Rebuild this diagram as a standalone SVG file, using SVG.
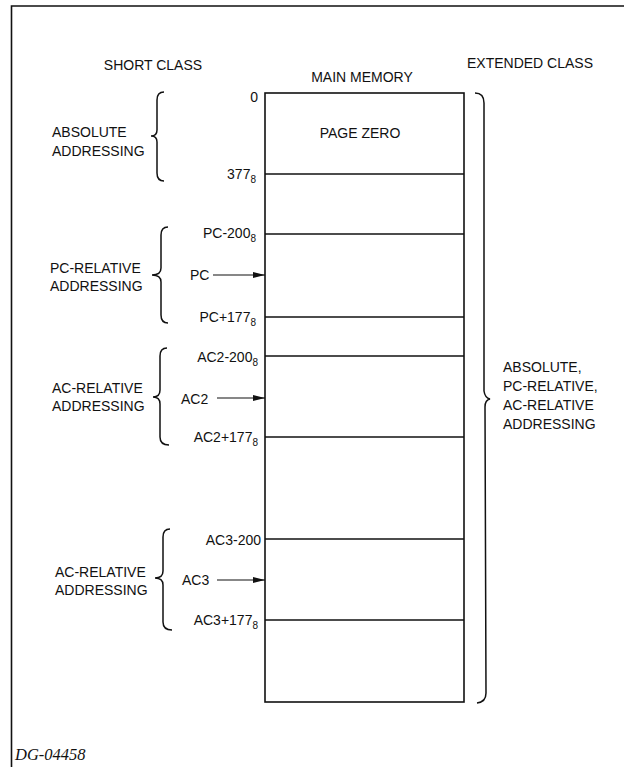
<svg xmlns="http://www.w3.org/2000/svg" width="624" height="767" viewBox="0 0 624 767">
<style>
text{font-family:"Liberation Sans",Arial,sans-serif;font-size:14px;fill:#111}
.r{text-anchor:end}
.sub{font-size:10px}
.ln{stroke:#111;stroke-width:1.6;fill:none}
.br{stroke:#111;stroke-width:1.5;fill:none}
.dg{font-family:"Liberation Serif","Times New Roman",serif;font-style:italic;font-size:16.5px}
</style>
<defs>
<marker id="ah" markerWidth="12" markerHeight="7" refX="12" refY="3.5" orient="auto" markerUnits="userSpaceOnUse">
<path d="M0,0.5 L12,3.5 L0,6.5 Z" fill="#111"/>
</marker>
</defs>
<rect width="624" height="767" fill="#fff"/>
<g id="frame">
<path class="ln" d="M11.5,767 L11.5,6 L624,6"/>
</g>
<g id="headers">
<text x="153" y="70" text-anchor="middle">SHORT CLASS</text>
<text x="362" y="82" text-anchor="middle">MAIN MEMORY</text>
<text x="530" y="68" text-anchor="middle">EXTENDED CLASS</text>
</g>
<g id="memory">
<rect class="ln" x="265" y="93" width="199" height="609"/>
<text x="360" y="138" text-anchor="middle">PAGE ZERO</text>
</g>
<g id="absolute">
<text x="52" y="137">ABSOLUTE</text>
<text x="52" y="156">ADDRESSING</text>
<path class="br" d="M164,92 Q157,92 157,100 L157,130 Q157,136 151,136 Q157,136 157,142 L157,173 Q157,181 164,181"/>
<text class="r" x="258" y="102">0</text>
<text class="r" x="256" y="179">377<tspan class="sub" dy="4">8</tspan></text>
</g>
<g id="pc-relative">
<text x="50" y="273">PC-RELATIVE</text>
<text x="50" y="291">ADDRESSING</text>
<path class="br" d="M168,227 Q161,227 161,235 L161,268 Q161,275 152,275 Q161,275 161,282 L161,315 Q161,323 168,323"/>
<text class="r" x="256" y="238">PC-200<tspan class="sub" dy="4">8</tspan></text>
<text x="190" y="280">PC</text>
<text class="r" x="256" y="322">PC+177<tspan class="sub" dy="4">8</tspan></text>
</g>
<g id="ac2-relative">
<text x="52" y="393">AC-RELATIVE</text>
<text x="52" y="411">ADDRESSING</text>
<path class="br" d="M167,348 Q160,348 160,356 L160,390 Q160,397 153,397 Q160,397 160,404 L160,437 Q160,445 169,445"/>
<text class="r" x="258" y="362">AC2-200<tspan class="sub" dy="4">8</tspan></text>
<text x="181" y="404">AC2</text>
<text class="r" x="258" y="442">AC2+177<tspan class="sub" dy="4">8</tspan></text>
</g>
<g id="ac3-relative">
<text x="55" y="577">AC-RELATIVE</text>
<text x="55" y="595">ADDRESSING</text>
<path class="br" d="M170,529 Q163,529 163,537 L163,571 Q163,578 155,578 Q163,578 163,585 L163,622 Q163,630 172,630"/>
<text class="r" x="261" y="545">AC3-200</text>
<text x="182" y="585">AC3</text>
<text class="r" x="258" y="625">AC3+177<tspan class="sub" dy="4">8</tspan></text>
</g>
<g id="extended">
<path class="br" d="M475,93 Q484,93 484,103 L484,391 Q485,398 490,399 Q485,400 485,407 L486,693 Q486,702 477,703"/>
<text x="503" y="372">ABSOLUTE,</text>
<text x="503" y="391">PC-RELATIVE,</text>
<text x="503" y="410">AC-RELATIVE</text>
<text x="503" y="429">ADDRESSING</text>
</g>
<g id="connectors">
<line class="ln" x1="265" y1="174" x2="464" y2="174"/>
<line class="ln" x1="265" y1="234" x2="464" y2="234"/>
<line class="ln" x1="265" y1="317" x2="464" y2="317"/>
<line class="ln" x1="265" y1="356" x2="464" y2="356"/>
<line class="ln" x1="265" y1="437" x2="464" y2="437"/>
<line class="ln" x1="265" y1="539" x2="464" y2="539"/>
<line class="ln" x1="265" y1="620" x2="464" y2="620"/>
<line stroke="#111" stroke-width="1.2" x1="213" y1="275" x2="265" y2="275" marker-end="url(#ah)"/>
<line stroke="#111" stroke-width="1.2" x1="217" y1="398" x2="265" y2="398" marker-end="url(#ah)"/>
<line stroke="#111" stroke-width="1.2" x1="217" y1="580" x2="265" y2="580" marker-end="url(#ah)"/>
</g>
<text class="dg" x="15" y="760">DG-04458</text>
</svg>
